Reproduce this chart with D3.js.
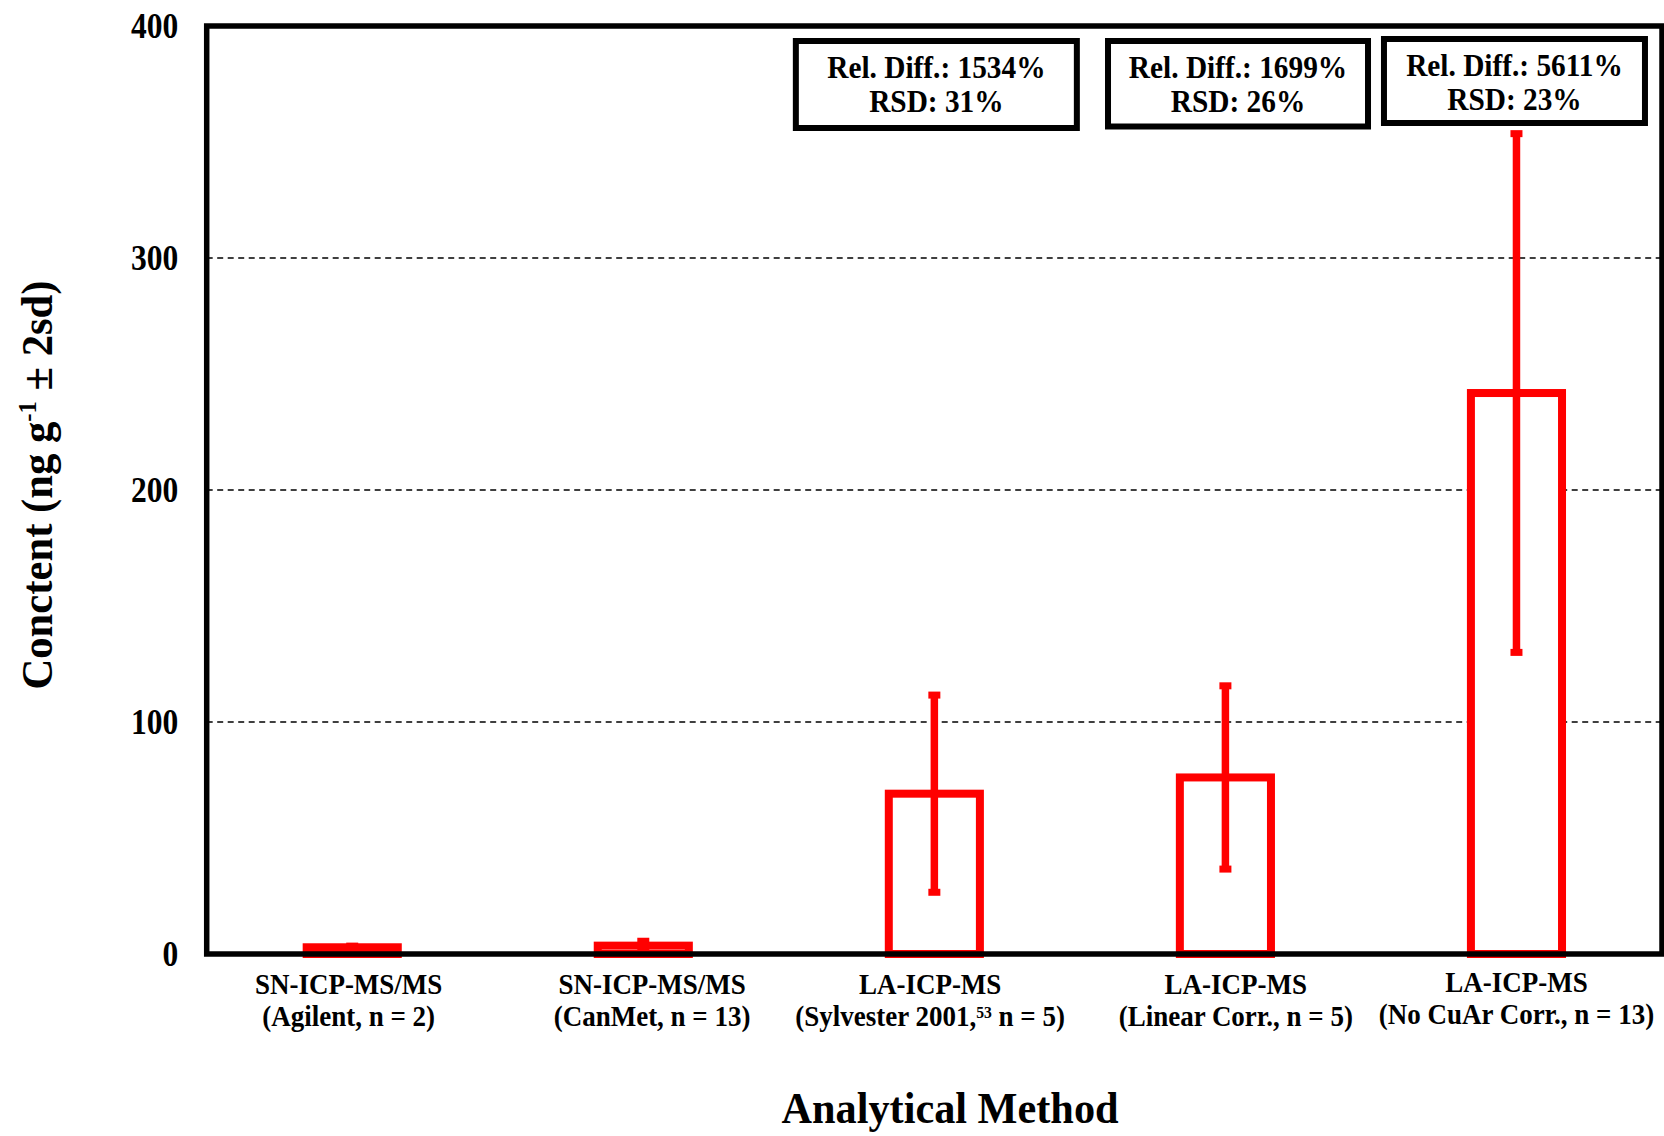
<!DOCTYPE html>
<html>
<head>
<meta charset="utf-8">
<script src="https://cdn.jsdelivr.net/npm/d3@7"></script>
<style>
  html, body { margin: 0; padding: 0; background: #ffffff; }
  svg { display: block; }
  text { font-family: "Liberation Serif", "Times New Roman", serif; font-weight: bold; fill: #000; }
</style>
</head>
<body>
<svg id="chart" width="1664" height="1136"></svg>
<script>
// ---- data ----
const categories = ["agilent", "canmet", "sylvester", "linear", "nocuar"];
const labelLine1 = ["SN-ICP-MS/MS", "SN-ICP-MS/MS", "LA-ICP-MS", "LA-ICP-MS", "LA-ICP-MS"];
const labelLine2 = [
  "(Agilent, n = 2)",
  "(CanMet, n = 13)",
  "(Sylvester 2001,^{53} n = 5)",
  "(Linear Corr., n = 5)",
  "(No CuAr Corr., n = 13)"
];
const meanValues = [2.9, 3.6, 69.1, 76.1, 241.8];   // ng g-1
const twoSdValues = [0.5, 1.9, 42.5, 39.5, 111.8];  // 2sd
const relDiffLabels = [null, null, "1534%", "1699%", "5611%"];
const rsdLabels = [null, null, "31%", "26%", "23%"];
const yTicks = [0, 100, 200, 300, 400];
const yDomain = [0, 400];

// ---- layout / style ----
const W = 1664, H = 1136;
const plot = { left: 206.7, right: 1662, top: 26, bottom: 954 };
const red = "#ff0000";
// horizontal nudge of each category label from its bar centre
const labelDx = [-3.6, 8.8, -4.2, 10.4, 0];
const labelDy = [0, 0, 0, 0, -2];
// annotation boxes: horizontal offset from bar centre, width, top, height
const noteLayout = [null, null,
  { dx: 2, w: 281, top: 41, h: 87 },
  { dx: 12.6, w: 260, top: 41, h: 85.5 },
  { dx: -2, w: 261, top: 39, h: 84 }
];

const svg = d3.select("#chart");

const x = d3.scaleBand()
  .domain(categories)
  .range([plot.left, plot.right])
  .paddingInner(0.687)
  .paddingOuter(0.3435);

const y = d3.scaleLinear().domain(yDomain).range([plot.bottom, plot.top]);

const rows = categories.map((c, i) => ({
  key: c, mean: meanValues[i], sd2: twoSdValues[i],
  l1: labelLine1[i], l2: labelLine2[i],
  rel: relDiffLabels[i], rsd: rsdLabels[i], note: noteLayout[i],
  ldx: labelDx[i], ldy: labelDy[i]
}));

// text placed at (tx, ty), horizontally condensed by sx
function condensed(parent, tx, ty, sx, rotate) {
  return parent.append("g")
    .attr("transform", `translate(${tx},${ty})` + (rotate ? ` rotate(${rotate})` : "") + ` scale(${sx},1)`);
}

// writes a string with ^{...} superscripts into a text element
function richText(textSel, str, size, riseFactor) {
  const parts = str.split(/\^\{(.*?)\}/);
  const rise = size * (riseFactor || 0.36);
  let pendingDy = 0;
  parts.forEach((p, k) => {
    if (p === "") return;
    if (k % 2 === 1) {
      textSel.append("tspan").attr("font-size", size * 0.58).attr("dy", pendingDy - rise).text(p);
      pendingDy = rise;
    } else {
      textSel.append("tspan").attr("font-size", size).attr("dy", pendingDy).text(p);
      pendingDy = 0;
    }
  });
}

// ---- gridlines ----
svg.append("g")
  .selectAll("line")
  .data(yTicks.filter(t => t > yDomain[0] && t < yDomain[1]))
  .join("line")
  .attr("x1", plot.left).attr("x2", plot.right)
  .attr("y1", d => y(d)).attr("y2", d => y(d))
  .attr("stroke", "#000").attr("stroke-width", 1.3)
  .attr("stroke-dasharray", "6,4.5");

// ---- bars ----
svg.append("g")
  .selectAll("rect")
  .data(rows)
  .join("rect")
  .attr("x", d => x(d.key))
  .attr("width", x.bandwidth())
  .attr("y", d => y(d.mean))
  .attr("height", d => y(0) - y(d.mean))
  .attr("fill", "#fff")
  .attr("stroke", red)
  .attr("stroke-width", 8);

// ---- error bars ----
const eb = svg.append("g").selectAll("g").data(rows).join("g");
eb.append("line")
  .attr("x1", d => x(d.key) + x.bandwidth() / 2)
  .attr("x2", d => x(d.key) + x.bandwidth() / 2)
  .attr("y1", d => y(d.mean + d.sd2))
  .attr("y2", d => y(Math.max(0, d.mean - d.sd2)))
  .attr("stroke", red).attr("stroke-width", 7.5);
[1, -1].forEach(sign => {
  eb.append("line")
    .attr("x1", d => x(d.key) + x.bandwidth() / 2 - 6)
    .attr("x2", d => x(d.key) + x.bandwidth() / 2 + 6)
    .attr("y1", d => y(Math.max(0, d.mean + sign * d.sd2)))
    .attr("y2", d => y(Math.max(0, d.mean + sign * d.sd2)))
    .attr("stroke", red).attr("stroke-width", 7);
});

// ---- frame ----
svg.append("rect")
  .attr("x", plot.left).attr("y", plot.top)
  .attr("width", plot.right - plot.left).attr("height", plot.bottom - plot.top)
  .attr("fill", "none").attr("stroke", "#000").attr("stroke-width", 5.5);

// ---- y axis tick labels ----
const yAxis = d3.axisLeft(y).tickValues(yTicks).tickSize(0).tickPadding(0).tickFormat(d3.format("d"));
const yAxisG = svg.append("g").attr("transform", `translate(${plot.left},0)`).call(yAxis);
yAxisG.select(".domain").remove();
yAxisG.selectAll(".tick text").remove();
yAxisG.selectAll(".tick").each(function (d) {
  const g = condensed(d3.select(this), -28.5, 0, 0.9, 0);
  g.append("text").attr("text-anchor", "end").attr("dy", "0.33em")
    .attr("font-size", 35).text(d3.format("d")(d));
});

// ---- category labels ----
const catG = svg.append("g");
rows.forEach(d => {
  const cx = x(d.key) + x.bandwidth() / 2 + d.ldx;
  condensed(catG, cx, 994 + d.ldy, 0.9).append("text")
    .attr("text-anchor", "middle").attr("font-size", 30).text(d.l1);
  const t2 = condensed(catG, cx, 1026 + d.ldy, 0.9).append("text")
    .attr("text-anchor", "middle");
  richText(t2, d.l2, 30, 0.28);
});

// ---- annotation boxes ----
const noteG = svg.append("g");
rows.filter(d => d.note).forEach(d => {
  const n = d.note;
  const cx = x(d.key) + x.bandwidth() / 2 + n.dx;
  noteG.append("rect")
    .attr("x", cx - n.w / 2).attr("y", n.top)
    .attr("width", n.w).attr("height", n.h)
    .attr("fill", "#fff").attr("stroke", "#000").attr("stroke-width", 6);
  condensed(noteG, cx, n.top + 37, 0.9).append("text")
    .attr("text-anchor", "middle").attr("font-size", 32.6)
    .text("Rel. Diff.: " + d.rel);
  condensed(noteG, cx, n.top + 71, 0.9).append("text")
    .attr("text-anchor", "middle").attr("font-size", 32.6)
    .text("RSD: " + d.rsd);
});

// ---- axis titles ----
condensed(svg, 950, 1123, 0.94).append("text")
  .attr("text-anchor", "middle").attr("font-size", 45)
  .text("Analytical Method");

const yt = condensed(svg, 52, 485, 0.97, -90).append("text")
  .attr("text-anchor", "middle");
richText(yt, "Conctent (ng g^{-1} ± 2sd)", 44);
</script>
</body>
</html>
